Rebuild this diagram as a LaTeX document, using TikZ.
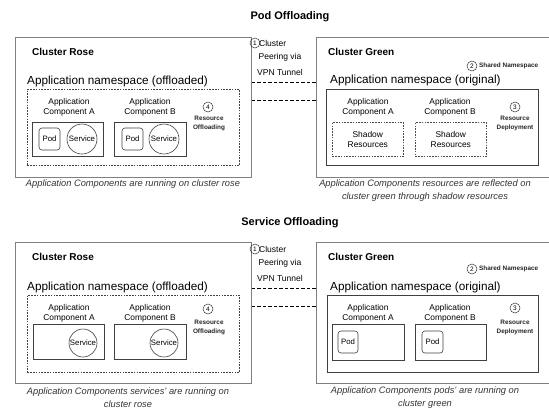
\documentclass[tikz,border=0pt]{standalone}
\usepackage{fontspec}
\setmainfont{Liberation Sans}
\usetikzlibrary{positioning}

\tikzset{
  cluster/.style={draw=black!50, line width=0.8pt, anchor=north west, inner sep=0pt},
  nsoff/.style={draw=black!75, dash pattern=on 1.6pt off 1.2pt, line width=0.6pt, anchor=north west, inner sep=0pt},
  nsorig/.style={draw=black!75, line width=0.7pt, anchor=north west, inner sep=0pt},
  compbox/.style={draw=black!75, line width=0.7pt, anchor=north west, inner sep=0pt},
  shadowbox/.style={draw=black!70, dash pattern=on 1.6pt off 1.2pt, line width=0.6pt, anchor=north west, inner sep=0pt, align=center, font=\fontsize{8.4}{10.5}\selectfont},
  pod/.style={draw=black!75, rounded corners=3pt, line width=0.6pt, minimum width=21pt, minimum height=22pt, inner sep=0pt, font=\fontsize{7.8}{9}\selectfont},
  svc/.style={draw=black!75, circle, line width=0.6pt, minimum size=30pt, inner sep=0pt, font=\fontsize{7.8}{9}\selectfont},
  heading/.style={font=\bfseries\fontsize{11}{13}\selectfont, inner sep=0pt},
  clusterlabel/.style={font=\bfseries\fontsize{10}{12}\selectfont, anchor=west, inner sep=0pt},
  nslabel/.style={font=\fontsize{11.75}{14}\selectfont, anchor=west, inner sep=0pt},
  complabel/.style={font=\fontsize{8.4}{10}\selectfont, align=center, inner sep=0pt},
  note/.style={font=\bfseries\fontsize{6.4}{9}\selectfont, align=center, inner sep=0pt, text=black!85},
  peer/.style={font=\fontsize{8.5}{10}\selectfont, inner sep=0pt},
  caption/.style={font=\itshape\fontsize{9.3}{13}\selectfont, align=center, inner sep=0pt, text=black!80},
  num/.style={circle, draw=black!80, line width=0.5pt, inner sep=0pt, minimum size=10pt, font=\fontsize{6.5}{7}\selectfont},
  tunnel/.style={line width=0.9pt, dash pattern=on 3.5pt off 2pt}
}

\begin{document}
\begin{tikzpicture}[x=1pt, y=-1pt]
  \useasboundingbox (0,0) rectangle (549,408);
  \clip (0,0) rectangle (549,408);

  % pod offloading
  \node[heading] (podtitle) at (290,17) {Pod Offloading};

  \node[cluster, minimum width=236pt, minimum height=140pt] (rose1) at (15,37) {};
  \node[clusterlabel] (rosename1) at (32,52) {Cluster Rose};
  \node[nslabel] (rosens1) at (27,81) {Application namespace (offloaded)};
  \node[nsoff, minimum width=212pt, minimum height=76pt] (offns1) at (27,89) {};
  \node[complabel] (compA1) at (69,107) {Application\\Component A};
  \node[compbox, minimum width=71pt, minimum height=34pt] (boxA1) at (32,122) {};
  \node[pod] (podA1) at (49.5,139) {Pod};
  \node[svc] (svcA1) at (82,139) {Service};
  \node[complabel] (compB1) at (150,107) {Application\\Component B};
  \node[compbox, minimum width=72pt, minimum height=34pt] (boxB1) at (114,122) {};
  \node[pod] (podB1) at (132.5,139) {Pod};
  \node[svc] (svcB1) at (164,139) {Service};
  \node[num] (four1) at (208,107) {4};
  \node[note] (offl1) at (209,123.5) {Resource\\Offloading};
  \node[caption] (capR1) at (133,184) {Application Components are running on cluster rose};

  \node[num] (one1) at (255,43) {1};
  \node[peer, anchor=west] (peerA1) at (259,43) {Cluster};
  \node[peer] (peerB1) at (280,57) {Peering via};
  \node[peer] (peerC1) at (280,72) {VPN Tunnel};

  \node[cluster, minimum width=240pt, minimum height=140pt] (green1) at (316,37) {};
  \node[clusterlabel] (greenname1) at (328,52) {Cluster Green};
  \node[num] (two1) at (472,66) {2};
  \node[note, anchor=west] (shared1) at (479,66) {Shared Namespace};
  \node[nslabel] (greenns1) at (330,80) {Application namespace (original)};
  \node[nsorig, minimum width=212pt, minimum height=76pt] (origns1) at (326,89) {};
  \node[complabel] (compC1) at (368,107) {Application\\Component A};
  \node[shadowbox, minimum width=71pt, minimum height=34pt] (shadowA1) at (332,122) {Shadow\\Resources};
  \node[complabel] (compD1) at (450,107) {Application\\Component B};
  \node[shadowbox, minimum width=71pt, minimum height=34pt] (shadowB1) at (415,122) {Shadow\\Resources};
  \node[num] (three1) at (515,107) {3};
  \node[note] (depl1) at (515,123.5) {Resource\\Deployment};
  \node[caption] (capG1) at (425,190.5) {Application Components resources are reflected on\\cluster green through shadow resources};

  \draw[tunnel] (rose1.east |- 0,82) -- (green1.west |- 0,82);
  \draw[tunnel] (rose1.east |- 0,100) -- (green1.west |- 0,100);

  % service offloading
  \node[heading] (svctitle) at (290,223) {Service Offloading};

  \node[cluster, minimum width=236pt, minimum height=141pt] (rose2) at (15,242) {};
  \node[clusterlabel] (rosename2) at (32,257) {Cluster Rose};
  \node[nslabel] (rosens2) at (27,287) {Application namespace (offloaded)};
  \node[nsoff, minimum width=212pt, minimum height=77pt] (offns2) at (27,295) {};
  \node[complabel] (compA2) at (69,313) {Application\\Component A};
  \node[compbox, minimum width=71pt, minimum height=35pt] (boxA2) at (33,324) {};
  \node[svc, minimum size=28pt] (svcA2) at (83,343) {Service};
  \node[complabel] (compB2) at (150,313) {Application\\Component B};
  \node[compbox, minimum width=72pt, minimum height=35pt] (boxB2) at (114,324) {};
  \node[svc, minimum size=28pt] (svcB2) at (164,343) {Service};
  \node[num] (four2) at (208,309) {4};
  \node[note] (offl2) at (209,327.5) {Resource\\Offloading};
  \node[caption] (capR2) at (128,397.5) {Application Components services' are running on\\cluster rose};

  \node[num] (one2) at (255,249) {1};
  \node[peer, anchor=west] (peerA2) at (259,249) {Cluster};
  \node[peer] (peerB2) at (280,263.5) {Peering via};
  \node[peer] (peerC2) at (280,278) {VPN Tunnel};

  \node[cluster, minimum width=240pt, minimum height=141pt] (green2) at (316,242) {};
  \node[clusterlabel] (greenname2) at (328,257) {Cluster Green};
  \node[num] (two2) at (472,269) {2};
  \node[note, anchor=west] (shared2) at (479,269) {Shared Namespace};
  \node[nslabel] (greenns2) at (330,287) {Application namespace (original)};
  \node[nsorig, minimum width=211pt, minimum height=77pt] (origns2) at (327,295) {};
  \node[complabel] (compC2) at (368,313) {Application\\Component A};
  \node[compbox, minimum width=72pt, minimum height=36pt] (boxC2) at (332,324) {};
  \node[pod, minimum width=20pt] (podC2) at (348,342) {Pod};
  \node[complabel] (compD2) at (450,313) {Application\\Component B};
  \node[compbox, minimum width=71pt, minimum height=36pt] (boxD2) at (415,324) {};
  \node[pod] (podD2) at (432.5,342) {Pod};
  \node[num] (three2) at (515,308) {3};
  \node[note] (depl2) at (515,327) {Resource\\Deployment};
  \node[caption] (capG2) at (425,397.5) {Application Components pods' are running on\\cluster green};

  \draw[tunnel] (rose2.east |- 0,288) -- (green2.west |- 0,288);
  \draw[tunnel] (rose2.east |- 0,306) -- (green2.west |- 0,306);
\end{tikzpicture}
\end{document}
